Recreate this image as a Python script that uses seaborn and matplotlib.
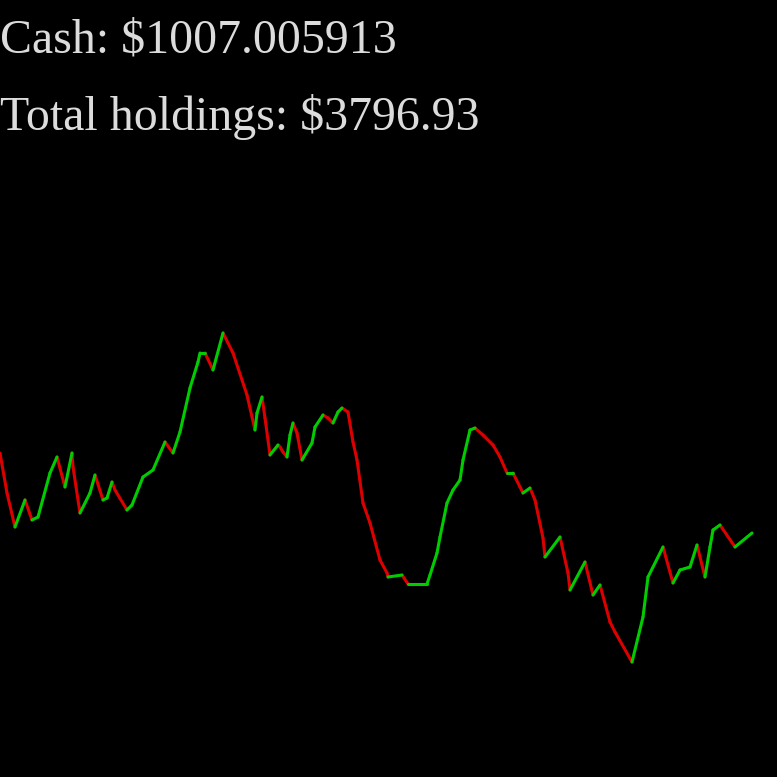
"""
Trading episode snapshot: cash / holdings readout above a price trace
coloured green on up-moves and red on down-moves.
"""

import matplotlib
matplotlib.use("Agg")
import matplotlib.pyplot as plt
import numpy as np
import pandas as pd
import seaborn as sns

# price trace (time step, price level)
t = [0, 7, 15, 25, 32, 38, 50, 57, 65, 72, 73, 80, 90, 95, 103, 107, 112, 115,
     127, 132, 143, 153, 165, 173, 180, 190, 198, 200, 205, 213, 223, 233, 247,
     255, 257, 262, 265, 270, 278, 280, 283, 287, 290, 293, 297, 302, 312, 315,
     323, 328, 333, 338, 342, 348, 353, 357, 363, 370, 380, 387, 388, 402, 408,
     417, 427, 430, 437, 440, 447, 453, 460, 463, 470, 475, 483, 493, 500, 507,
     513, 520, 523, 530, 535, 543, 545, 560, 568, 570, 585, 593, 600, 610, 615,
     632, 643, 648, 663, 673, 680, 690, 697, 705, 710, 713, 720, 735, 752]
price = [324, 284, 250, 277, 257, 260, 304, 320, 290, 324, 310, 264, 284, 302,
         277, 279, 295, 287, 267, 272, 300, 307, 335, 324, 345, 389, 415, 424,
         424, 407, 444, 424, 382, 347, 364, 380, 359, 322, 332, 330, 325, 320,
         342, 354, 344, 317, 334, 350, 362, 359, 354, 365, 369, 365, 335, 317,
         274, 254, 217, 204, 200, 202, 193, 193, 193, 202, 224, 240, 274, 287,
         297, 317, 347, 349, 342, 332, 320, 304, 304, 290, 284, 289, 277, 239,
         220, 240, 204, 187, 215, 182, 192, 155, 145, 115, 160, 200, 230, 194,
         207, 210, 232, 200, 230, 247, 252, 230, 244]

cash = 1007.005913
holdings = 3796.93

UP_COLOR = "#00cc00"
DOWN_COLOR = "#dd0000"

# one two-point line per step so each move gets its own colour
rows = []
for i in range(len(t) - 1):
    direction = "up" if price[i + 1] >= price[i] else "down"
    rows.append({"seg": i, "t": t[i], "price": price[i], "dir": direction})
    rows.append({"seg": i, "t": t[i + 1], "price": price[i + 1], "dir": direction})
segs = pd.DataFrame(rows)

sns.set_theme(style="dark", rc={"axes.facecolor": "black", "figure.facecolor": "black"})

fig = plt.figure(figsize=(7.77, 7.77), dpi=100)
ax = fig.add_axes([0, 0, 1, 1])
ax.set_facecolor("black")

sns.lineplot(
    data=segs, x="t", y="price", hue="dir", units="seg", estimator=None,
    palette={"up": UP_COLOR, "down": DOWN_COLOR}, linewidth=2.2,
    legend=False, ax=ax,
)

ax.set_xlim(0, 777)
ax.set_ylim(0, 777)
ax.axis("off")

txt_kw = dict(family=["Liberation Serif", "DejaVu Serif"], fontsize=34.5,
              color="#dcdcdc", ha="left", va="baseline")
fig.text(0.0, 1 - 53 / 777, f"Cash: ${cash}", **txt_kw)
fig.text(0.0, 1 - 130 / 777, f"Total holdings: ${holdings}", **txt_kw)

fig.savefig("out.png", dpi=100, facecolor="black")
